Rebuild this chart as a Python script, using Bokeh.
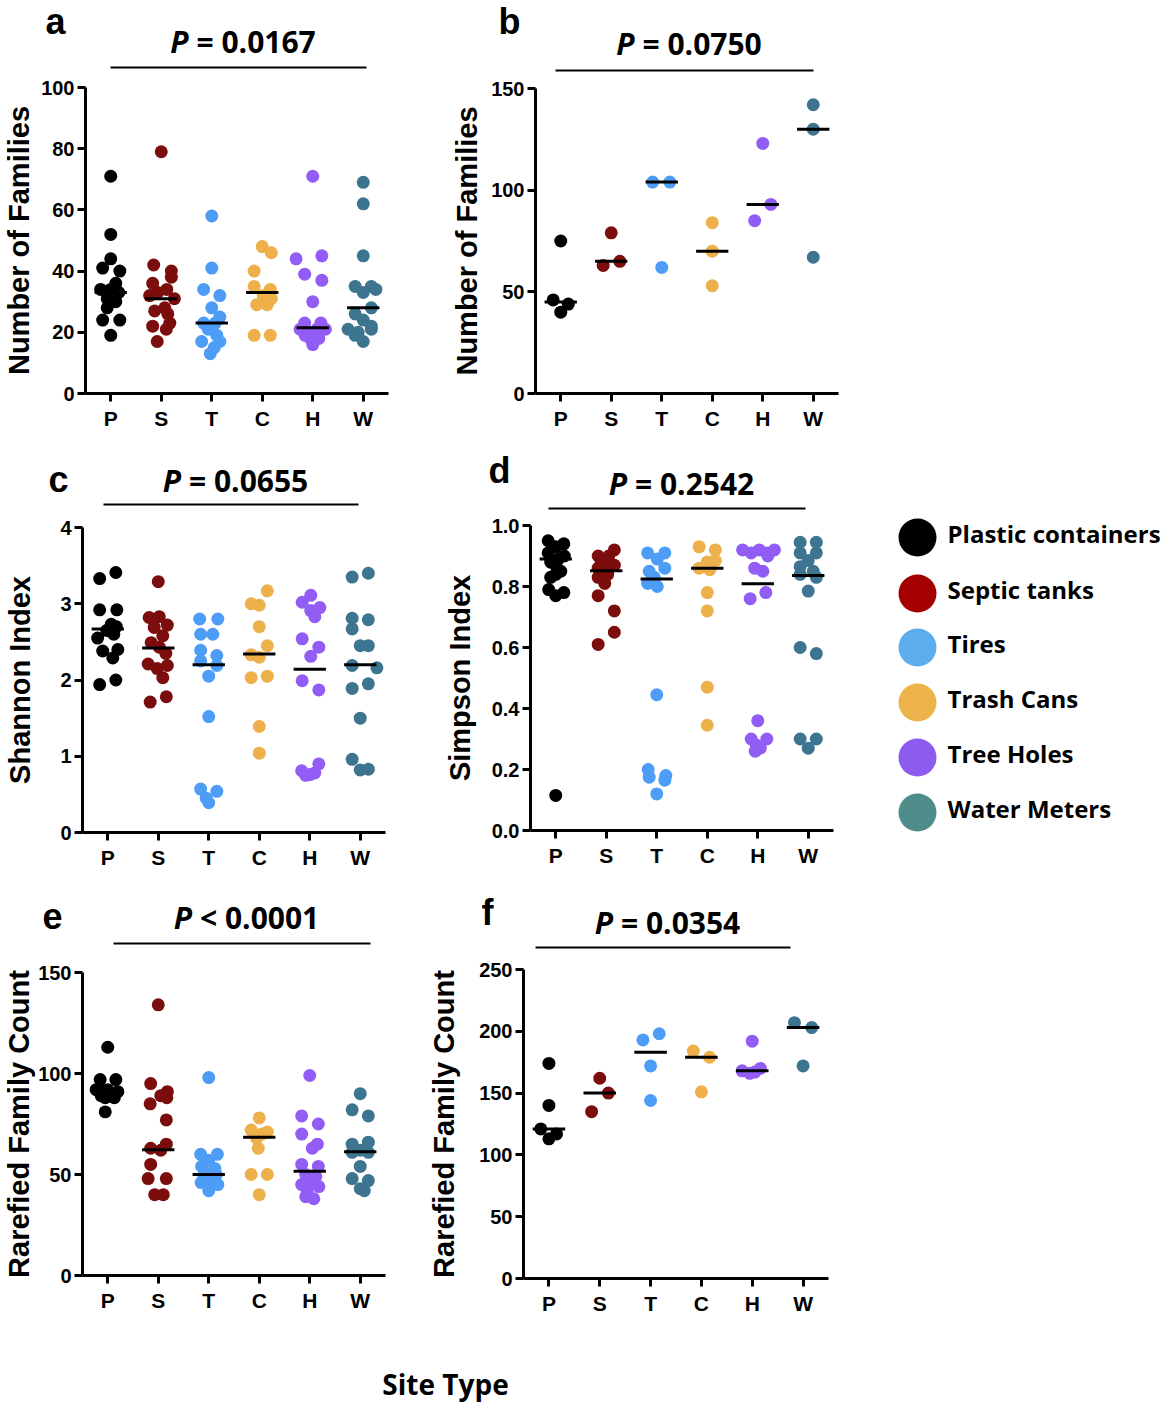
from bokeh.plotting import figure
from bokeh.models import Range1d, FixedTicker, PrintfTickFormatter, ColumnDataSource
from bokeh.layouts import column, row
from bokeh.embed import file_html
from bokeh.resources import INLINE
from bokeh.core.properties import value

# ---------------- data ----------------
groups = ["P", "S", "T", "C", "H", "W"]
legend_names = ["Plastic containers", "Septic tanks", "Tires", "Trash Cans", "Tree Holes", "Water Meters"]
point_colors = ["#000000", "#7B0D0D", "#4D9DF7", "#EDB04A", "#915DF4", "#3D7590"]
legend_colors = ["#000000", "#A40000", "#5BADED", "#EDB34B", "#8B5CEE", "#4F8D8A"]

# panel a: Number of Families
a_vals = [[71, 52, 44, 41, 40, 36, 34, 34, 33, 31, 30, 28, 24, 24, 19],
          [79, 42, 40, 38, 36, 34, 33, 32, 31, 28, 27, 26, 23, 22, 21, 17],
          [58, 41, 34, 32, 28, 25, 23, 23, 21, 19, 17, 17, 15, 13],
          [48, 46, 40, 35, 34, 32, 31, 29, 29, 19, 19],
          [71, 44, 45, 39, 37, 30, 23, 23, 21, 21, 20, 21, 19, 18, 18, 16],
          [69, 62, 45, 35, 35, 34, 33, 28, 26, 24, 22, 21, 21, 20, 19, 17]]
a_dx = [[0, 0, 0, -.16, .18, .1, -.2, 0, .16, -.07, .1, -.07, -.16, .18, 0],
        [0, -.15, .2, .2, -.17, .11, -.07, -.23, .26, .07, -.13, .13, .17, -.17, .1, -.08],
        [0, 0, -.16, .16, 0, .16, -.16, .07, -.07, .1, -.2, .16, .05, -.03],
        [0, .18, -.16, -.16, .16, .02, .18, -.11, .1, -.16, .16],
        [0, -.33, .18, -.16, .18, 0, -.16, .16, -.25, .25, 0, .08, -.15, .12, -.05, 0],
        [0, 0, 0, -.16, .16, .25, 0, .16, -.16, 0, .16, -.3, .16, -.1, -.16, 0]]
a_med = [33, 31, 23, 33, 21.5, 28]

# panel b: Number of Families
b_vals = [[75, 46, 44, 40], [79, 63, 65], [104, 104, 62], [84, 70, 53], [123, 85, 93], [142, 130, 67]]
b_dx = [[0, -.15, .15, 0], [0, -.16, .17], [-.18, .16, 0], [0, 0, 0], [0, -.16, .16], [0, 0, 0]]
b_med = [45, 65, 104, 70, 93, 130]

# panel c: Shannon Index
c_vals = [[3.41, 3.33, 2.92, 2.92, 2.73, 2.70, 2.65, 2.55, 2.60, 2.38, 2.40, 2.29, 1.94, 2.00],
          [3.29, 2.82, 2.83, 2.72, 2.69, 2.58, 2.49, 2.43, 2.35, 2.21, 2.19, 2.15, 2.03, 1.71, 1.78],
          [2.80, 2.80, 2.60, 2.60, 2.39, 2.32, 2.25, 2.19, 2.05, 1.52, 0.57, 0.54, 0.45, 0.39],
          [3.17, 3.00, 2.98, 2.70, 2.45, 2.33, 2.30, 2.03, 2.05, 1.39, 1.04],
          [3.11, 3.02, 2.91, 2.95, 2.83, 2.54, 2.43, 2.31, 1.99, 1.87, 0.81, 0.76, 0.90, 0.78, 0.75],
          [3.35, 3.40, 2.81, 2.79, 2.67, 2.45, 2.45, 2.19, 2.16, 1.89, 1.95, 1.50, 0.96, 0.82, 0.83]]
c_dx = [[.16, -.16, -.16, .18, .07, .17, -.02, -.2, .12, -.1, .2, .1, -.16, .16],
        [0, -.18, .02, .18, -.08, .09, -.14, .02, .15, -.2, .18, -.02, .09, -.16, .16],
        [-.18, .18, -.16, .08, -.16, .16, -.16, .16, 0, 0, -.16, .16, -.05, 0],
        [.16, -.16, 0, 0, .16, -.16, 0, -.16, .16, 0, 0],
        [.02, -.15, .02, .2, .1, -.15, .18, .02, -.15, .18, -.16, 0, .18, .1, -.08],
        [-.16, .16, -.16, .16, -.16, 0, .16, -.16, .33, -.16, .16, 0, -.16, 0, .16]]
c_med = [2.67, 2.42, 2.20, 2.34, 2.14, 2.20]

# panel d: Simpson Index
d_vals = [[.95, .94, .93, .91, .90, .89, .88, .87, .85, .84, .83, .79, .78, .77, .115],
          [.92, .90, .90, .88, .87, .86, .86, .85, .84, .83, .81, .77, .72, .65, .61],
          [.91, .91, .89, .86, .85, .83, .81, .80, .445, .20, .18, .175, .165, .12],
          [.93, .92, .885, .88, .86, .855, .78, .72, .47, .345],
          [.92, .91, .92, .91, .92, .90, .86, .85, .78, .76, .36, .30, .30, .28, .27, .26],
          [.945, .945, .91, .91, .885, .865, .85, .84, .83, .785, .60, .58, .30, .30, .27]]
d_dx = [[-.15, .16, 0, -.15, .17, .05, -.1, 0, .1, 0, -.1, -.14, .16, 0, 0],
        [.16, -.16, .05, -.1, .16, -.16, .05, -.05, .03, -.16, -.03, -.16, .16, .16, -.16],
        [-.18, .16, .01, .16, -.15, -.05, -.18, .01, 0, -.17, .18, -.15, .16, 0],
        [-.16, .16, .16, 0, -.16, .05, 0, 0, 0, 0],
        [-.3, -.13, .03, .18, .33, .2, -.06, .1, .16, -.15, 0, -.13, .18, -.03, .05, -.05],
        [-.16, .16, -.16, .16, 0, -.16, .1, -.16, .16, 0, -.16, .16, -.16, .16, 0]]
d_med = [.89, .852, .825, .86, .809, .836]

# panel e: Rarefied Family Count
e_vals = [[113, 97, 97, 92, 92, 91, 90, 89, 88, 88, 91, 81],
          [134, 95, 91, 89, 88, 85, 77, 63, 65, 62, 55, 48, 48, 40, 40],
          [98, 60, 60, 57, 54, 53, 51, 50, 49, 47, 46, 45, 42, 48],
          [78, 72, 71, 70, 68, 63, 50, 50, 40],
          [99, 79, 75, 70, 65, 63, 55, 54, 50, 49, 47, 45, 44, 42, 39, 38],
          [90, 82, 79, 65, 66, 62, 61, 61, 54, 48, 47, 43, 42]]
e_dx = [[0, -.15, .16, -.23, 0, .2, .1, -.13, .13, -.05, -.08, -.05],
        [0, -.15, .18, .05, .17, -.16, .16, -.15, .16, .05, -.15, -.2, .16, -.07, .1],
        [0, -.16, .17, 0, -.14, .12, -.08, .15, .1, 0, -.15, .18, 0, -.1],
        [0, -.16, .16, .05, -.05, -.02, -.16, .16, 0],
        [0, -.16, .17, -.16, .15, .05, -.16, .17, -.08, .12, .05, -.16, .18, -.05, -.08, .08],
        [0, -.16, .16, -.16, .16, 0, -.16, .16, 0, -.16, .16, 0, .08]]
e_med = [91.5, 62.3, 50, 68.4, 51.6, 61.3]

# panel f: Rarefied Family Count
f_vals = [[174, 140, 121, 113, 117], [162, 135, 150], [193, 198, 172, 144],
          [184, 179, 151], [192, 168, 170, 166, 167], [207, 203, 172]]
f_dx = [[0, 0, -.16, 0, .15], [0, -.16, .17], [-.15, .17, 0, 0],
        [-.16, .16, 0], [0, -.2, .16, -.05, .05], [-.17, .17, 0]]
f_med = [121, 150, 183, 179, 168, 203]

p_ops = ["=", "=", "=", "=", "<", "="]
p_values = ["0.0167", "0.0750", "0.0655", "0.2542", "0.0001", "0.0354"]
panel_letters = ["a", "b", "c", "d", "e", "f"]

# ---------------- layout (page pixels, page origin at top-left) ----------------
AX_FONT = "Liberation Sans"
TXT_FONT = "Open Sans"


def bare_fig(x0, y0, w, h):
    """A figure whose data coordinates are page pixels (y negated so ranges increase upward)."""
    f = figure(width=w, height=h, title=None, x_range=Range1d(x0, x0 + w), y_range=Range1d(-(y0 + h), -y0),
               min_border=0, min_border_left=0, min_border_right=0, min_border_top=0, min_border_bottom=0,
               toolbar_location=None, output_backend="svg", outline_line_color=None,
               x_axis_location=None, y_axis_location=None, frame_align=False)
    f.xgrid.visible = False
    f.ygrid.visible = False
    return f


def make_panel(idx, vals, dxs, meds, ymax, yticks, ylabel, lay, fmt=None):
    tx, ty, tw, th = lay["tile"]
    hh = lay["header_h"]
    axis_x, frame_r, y_zero, y_max_px = lay["axis_x"], lay["frame_r"], lay["y_zero"], lay["y_max_px"]

    # header: panel letter, P value and the bar under it
    hdr = bare_fig(tx, ty, tw, hh)
    lx0, lx1 = lay["line_x"]
    cx = (lx0 + lx1) / 2.0
    hdr.text(x=[lay["letter_xy"][0]], y=[-lay["letter_xy"][1]], text=[panel_letters[idx]],
             text_font=value(AX_FONT), text_font_style="bold", text_font_size="36px",
             text_align="center", text_baseline="middle", text_color="black")
    hdr.text(x=[cx - 50], y=[-lay["title_y"]], text=["P"], text_font=value(TXT_FONT),
             text_font_style="bold italic", text_font_size="30px", text_align="right",
             text_baseline="middle", text_color="black")
    hdr.text(x=[cx - 42], y=[-lay["title_y"]], text=["%s %s" % (p_ops[idx], p_values[idx])],
             text_font=value(TXT_FONT), text_font_style="bold", text_font_size="30px",
             text_align="left", text_baseline="middle", text_color="black")
    hdr.segment(x0=[lx0], x1=[lx1], y0=[-lay["line_y"]], y1=[-lay["line_y"]], line_width=2, line_color="black")

    # plot
    pty = ty + hh
    pth = th - hh
    p = figure(width=tw, height=pth, title=None,
               x_range=Range1d(-0.5, 5.5), y_range=Range1d(0, ymax),
               min_border_left=axis_x - tx, min_border_right=tx + tw - frame_r,
               min_border_top=y_max_px - pty, min_border_bottom=pty + pth - y_zero,
               toolbar_location=None, output_backend="svg", outline_line_color=None, frame_align=False)
    p.xgrid.visible = False
    p.ygrid.visible = False

    ya = p.yaxis[0]
    ya.ticker = FixedTicker(ticks=yticks)
    if fmt:
        ya.formatter = PrintfTickFormatter(format=fmt)
    xa = p.xaxis[0]
    xa.ticker = FixedTicker(ticks=list(range(6)))
    xa.major_label_overrides = {i: g for i, g in enumerate(groups)}
    for ax in (xa, ya):
        ax.axis_line_width = 3
        ax.axis_line_color = "black"
        ax.major_tick_line_width = 3
        ax.major_tick_line_color = "black"
        ax.major_tick_out = 8
        ax.major_tick_in = 0
        ax.minor_tick_line_color = None
        ax.major_label_text_font = AX_FONT
        ax.major_label_text_font_style = "bold"
        ax.major_label_text_color = "black"
    xa.major_label_text_font_size = "21px"
    xa.major_label_standoff = 5
    ya.major_label_text_font_size = "20px"
    ya.major_label_standoff = 3
    ya.axis_label = ylabel
    ya.axis_label_text_font = AX_FONT
    ya.axis_label_text_font_style = "bold"
    ya.axis_label_text_font_size = "29px"
    ya.axis_label_text_color = "black"
    ya.axis_label_standoff = lay["label_standoff"]

    xs, ys, cs = [], [], []
    for gi, (gv, gd) in enumerate(zip(vals, dxs)):
        for v, d in zip(gv, gd):
            xs.append(gi + d)
            ys.append(v)
            cs.append(point_colors[gi])
    src = ColumnDataSource(dict(x=xs, y=ys, c=cs))
    p.scatter("x", "y", source=src, size=13, fill_color="c", line_color=None)
    p.segment(x0=[i - 0.32 for i in range(6)], x1=[i + 0.32 for i in range(6)],
              y0=meds, y1=meds, line_width=3, line_color="black")
    return column(hdr, p)


lay_a = dict(tile=(0, 0, 440, 440), header_h=73, axis_x=85, frame_r=388, y_zero=393, y_max_px=87,
             label_standoff=3, title_y=41, line_y=67, line_x=(110, 366), letter_xy=(55, 21))
lay_b = dict(tile=(440, 0, 440, 440), header_h=73, axis_x=535, frame_r=838, y_zero=393, y_max_px=88,
             label_standoff=5, title_y=43, line_y=70, line_x=(555, 813), letter_xy=(509, 21))
lay_c = dict(tile=(0, 440, 440, 440), header_h=70, axis_x=82, frame_r=385, y_zero=832, y_max_px=527,
             label_standoff=21, title_y=480, line_y=504, line_x=(103, 358), letter_xy=(58, 479))
lay_d = dict(tile=(440, 440, 440, 440), header_h=70, axis_x=530, frame_r=833, y_zero=830, y_max_px=525,
             label_standoff=13, title_y=483, line_y=508, line_x=(548, 805), letter_xy=(499, 470))
lay_e = dict(tile=(0, 880, 425, 480), header_h=70, axis_x=82, frame_r=385, y_zero=1275, y_max_px=972,
             label_standoff=0, title_y=917, line_y=943, line_x=(113, 370), letter_xy=(52, 915))
lay_f = dict(tile=(425, 880, 455, 480), header_h=70, axis_x=522, frame_r=828, y_zero=1278, y_max_px=969,
             label_standoff=16, title_y=922, line_y=947, line_x=(535, 790), letter_xy=(487, 912))

pa = make_panel(0, a_vals, a_dx, a_med, 100, [0, 20, 40, 60, 80, 100], "Number of Families", lay_a)
pb = make_panel(1, b_vals, b_dx, b_med, 150, [0, 50, 100, 150], "Number of Families", lay_b)
pc = make_panel(2, c_vals, c_dx, c_med, 4, [0, 1, 2, 3, 4], "Shannon Index", lay_c)
pd_ = make_panel(3, d_vals, d_dx, d_med, 1.0, [0, 0.2, 0.4, 0.6, 0.8, 1.0], "Simpson Index", lay_d, fmt="%.1f")
pe = make_panel(4, e_vals, e_dx, e_med, 150, [0, 50, 100, 150], "Rarefied Family Count", lay_e)
pf = make_panel(5, f_vals, f_dx, f_med, 250, [0, 50, 100, 150, 200, 250], "Rarefied Family Count", lay_f)

# legend
leg = bare_fig(880, 440, 287, 440)
leg_y = [537, 593, 647, 702, 757, 812]
leg.scatter(x=[917] * 6, y=[-v for v in leg_y], size=38, fill_color=legend_colors, line_color=None)
leg.text(x=[947] * 6, y=[-(v - 4) for v in leg_y], text=legend_names, text_font=value(TXT_FONT),
         text_font_style="bold", text_font_size="24px", text_align="left", text_baseline="middle",
         text_color="black")

# x-axis title
site = bare_fig(0, 1360, 880, 43)
site.text(x=[445], y=[-1383], text=["Site Type"], text_font=value(TXT_FONT), text_font_style="bold",
          text_font_size="28px", text_align="center", text_baseline="middle", text_color="black")

layout = column(row(pa, pb), row(pc, pd_, leg), row(pe, pf), site)
open("out.html", "w").write(file_html(layout, INLINE))
